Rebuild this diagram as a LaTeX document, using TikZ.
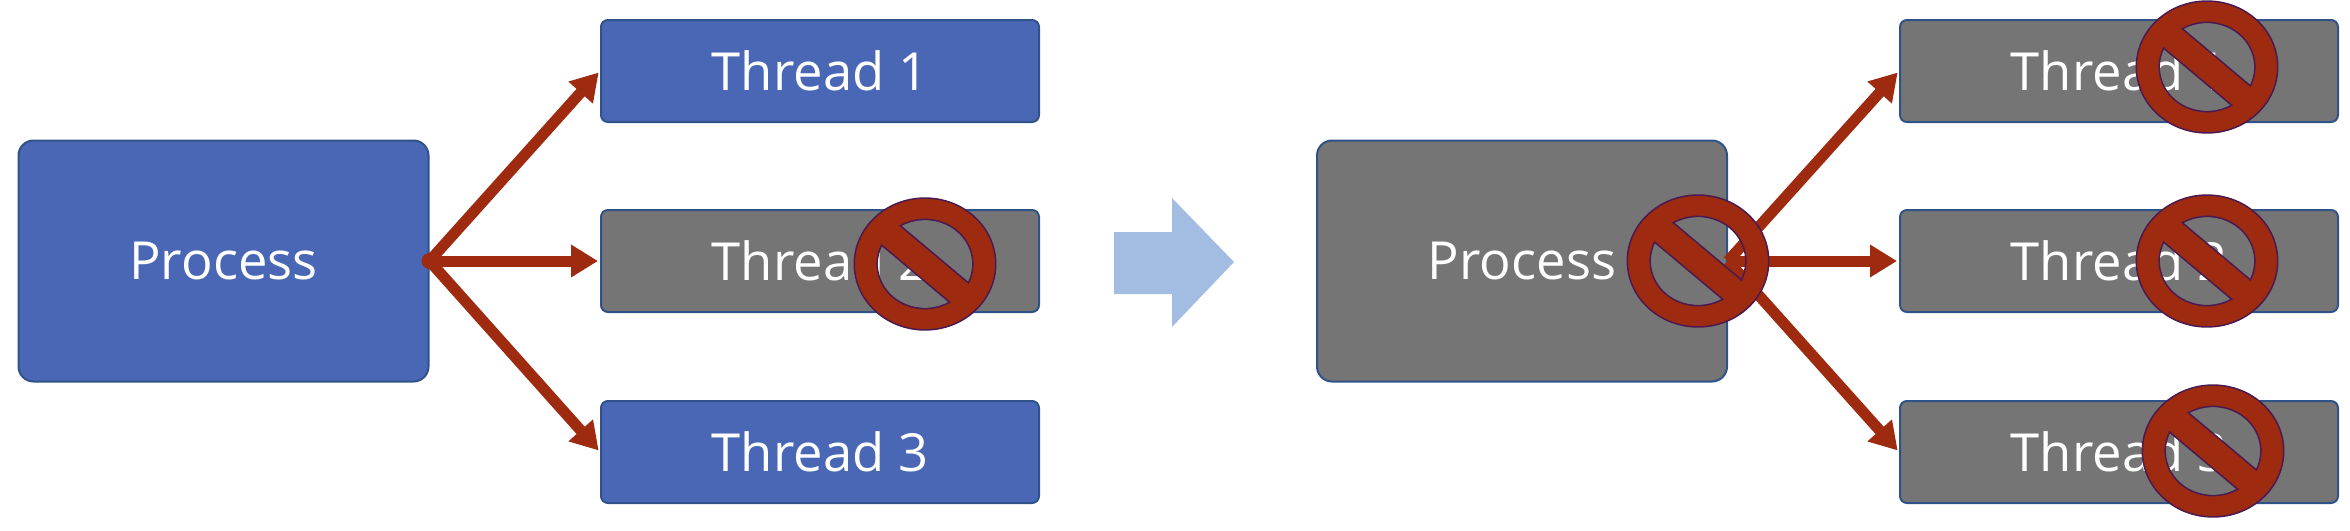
\documentclass[tikz,border=0pt]{standalone}
\usepackage{fontspec}
\setmainfont{Open Sans}
\definecolor{boxblue}{HTML}{4A67B6}
\definecolor{boxedge}{HTML}{2F5288}
\definecolor{boxgray}{HTML}{757575}
\definecolor{arrowred}{HTML}{9E2A10}
\definecolor{bigarrow}{HTML}{A3BDE2}
\definecolor{signedge}{HTML}{4A1A50}
\tikzset{
  procbox/.style={draw=boxedge,line width=2pt,rounded corners=15pt,minimum width=410pt,minimum height=241pt,text=white,inner sep=0pt,font=\fontsize{52.5}{60}\selectfont},
  threadbox/.style={draw=boxedge,line width=2pt,rounded corners=7pt,minimum width=438pt,minimum height=102pt,text=white,inner sep=0pt,font=\fontsize{52.5}{60}\selectfont},
  live/.style={fill=boxblue},
  dead/.style={fill=boxgray},
  link/.style={draw=arrowred,line width=11pt,-{Stealth[length=27pt,width=31pt,inset=0pt]},shorten >=2pt},
  nosign/.pic={
    \begin{scope}[rotate=-42]
    \path[fill=arrowred,draw=signedge,line width=1.5pt,even odd rule]
      (0,0) circle[radius=68pt]
      (17:46pt) arc[start angle=17,end angle=163,radius=46pt] -- cycle
      (197:46pt) arc[start angle=197,end angle=343,radius=46pt] -- cycle;
    \end{scope}
  }
}
\usetikzlibrary{arrows.meta}
\begin{document}
\begin{tikzpicture}[x=1pt,y=-1pt]
\useasboundingbox (0,0) rectangle (2350,530);
% left group
\node[procbox,live] (p1) at (223.5,261) {Process};
\node[threadbox,live] (a1) at (820,71) {Thread 1};
\node[threadbox,dead] (a2) at (820,261) {Thread 2};
\node[threadbox,live] (a3) at (820,452) {Thread 3};
\draw[link] (p1.east) -- (a1.west);
\draw[link] (p1.east) -- (a2.west);
\draw[link] (p1.east) -- (a3.west);
\fill[arrowred] (p1.east) circle[radius=8pt];
\pic[xscale=1.04,yscale=.97] at (925,264) {nosign};
% block arrow
\fill[bigarrow] (1114,232) -- (1172,232) -- (1172,198) -- (1234,262) -- (1172,327) -- (1172,294) -- (1114,294) -- cycle;
% right group
\node[procbox,dead] (p2) at (1522,261) {Process};
\node[threadbox,dead] (b1) at (2119,71) {Thread 1};
\node[threadbox,dead] (b2) at (2119,261) {Thread 2};
\node[threadbox,dead] (b3) at (2119,452) {Thread 3};
\draw[link] (p2.east) -- (b1.west);
\draw[link] (p2.east) -- (b2.west);
\draw[link] (p2.east) -- (b3.west);
\pic[xscale=1.04,yscale=.97] at (2207,67) {nosign};
\pic[xscale=1.04,yscale=.97] at (2207,261) {nosign};
\pic[xscale=1.04,yscale=.97] at (2213,451) {nosign};
\pic[xscale=1.04,yscale=.97] at (1698,261) {nosign};
\end{tikzpicture}
\end{document}
